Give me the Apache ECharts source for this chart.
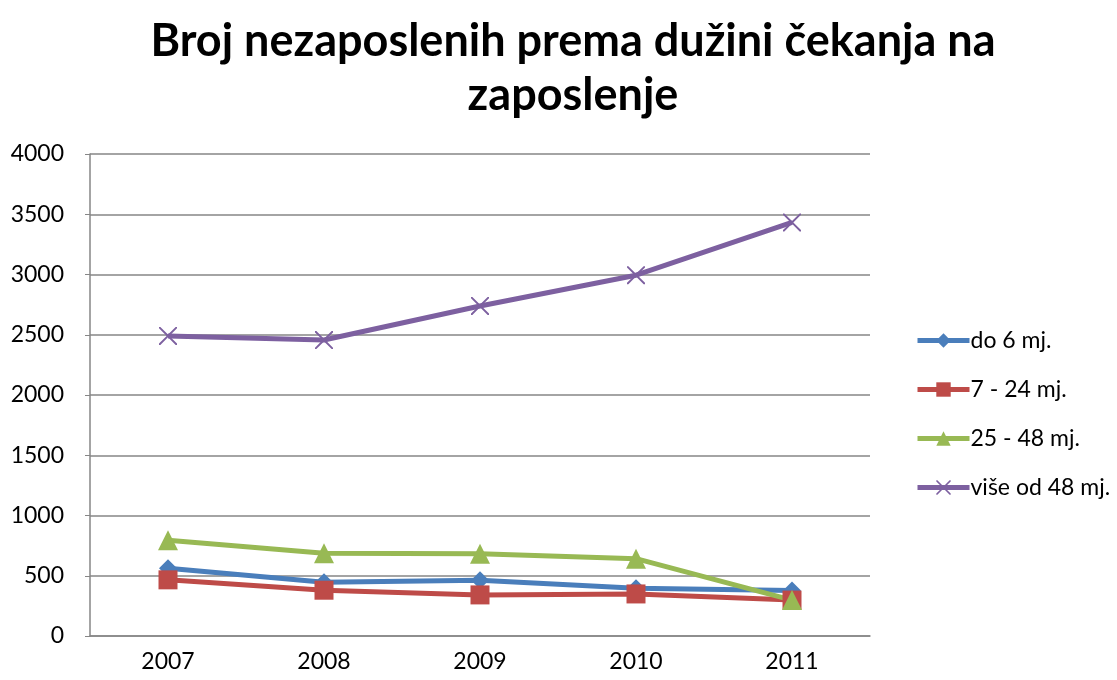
<!DOCTYPE html>
<html>
<head>
<meta charset="utf-8">
<title>Broj nezaposlenih</title>
<script src="https://cdn.jsdelivr.net/npm/echarts@6/dist/echarts.min.js"></script>
<style>
body{margin:0;background:#fff;}
#main{width:1117px;height:680px;}
</style>
</head>
<body>
<div id="main"></div>
<script>
var years = ['2007', '2008', '2009', '2010', '2011'];
var names = ['do 6 mj.', '7 - 24 mj.', '25 - 48 mj.', 'više od 48 mj.'];
var do6 = [563, 447, 462, 397, 377];
var od7do24 = [466, 380, 341, 349, 298];
var od25do48 = [795, 686, 682, 642, 298];
var vise48 = [2490, 2456, 2739, 2994, 3432];

var xMark = 'path://M0,0L1.5,0L10,8.5L18.5,0L20,0L20,1.5L11.5,10L20,18.5L20,20L18.5,20L10,11.5L1.5,20L0,20L0,18.5L8.5,10L0,1.5Z';

function serie(name, vals, color, symbol, size) {
    return {
        name: name,
        type: 'line',
        data: vals,
        symbol: symbol,
        symbolSize: size,
        lineStyle: {color: color, width: 5},
        itemStyle: {color: color},
        emphasis: {disabled: true}
    };
}

var myChart = echarts.init(document.getElementById('main'));
var option = {
    animation: false,
    textStyle: {fontFamily: 'Lato'},
    title: {
        text: 'Broj nezaposlenih prema dužini čekanja na\nzaposlenje',
        left: 568,
        textAlign: 'center',
        top: 9,
        textStyle: {fontFamily: 'Lato', fontSize: 45, fontWeight: 'bold', color: '#000', lineHeight: 54}
    },
    grid: {left: 90, right: 247, top: 154, bottom: 44},
    legend: {
        orient: 'vertical',
        left: 910,
        top: 324,
        itemWidth: 52,
        itemHeight: 18,
        itemGap: 26,
        lineStyle: {width: 5},
        textStyle: {fontSize: 23, color: '#000', fontFamily: 'Lato', padding: [0, 0, 0, -4]},
        data: names
    },
    xAxis: {
        type: 'category',
        data: years,
        axisLine: {lineStyle: {color: '#868686', width: 1.5}},
        axisTick: {show: false},
        axisLabel: {fontSize: 23, color: '#000', margin: 14}
    },
    yAxis: {
        type: 'value',
        min: 0,
        max: 4000,
        interval: 500,
        axisLine: {show: true, lineStyle: {color: '#868686', width: 1.5}},
        axisTick: {show: true, length: 5, lineStyle: {color: '#868686'}},
        axisLabel: {fontSize: 23, color: '#000', margin: 26, formatter: function (v) { return String(v); }},
        splitLine: {lineStyle: {color: '#868686', width: 1.5}}
    },
    series: [
        serie(names[0], do6, '#4A7EBB', 'diamond', 18),
        serie(names[1], od7do24, '#BE4B48', 'rect', 19),
        serie(names[2], od25do48, '#98B954', 'triangle', 20),
        serie(names[3], vise48, '#7D60A0', xMark, 18)
    ]
};
myChart.setOption(option);
</script>
</body>
</html>
